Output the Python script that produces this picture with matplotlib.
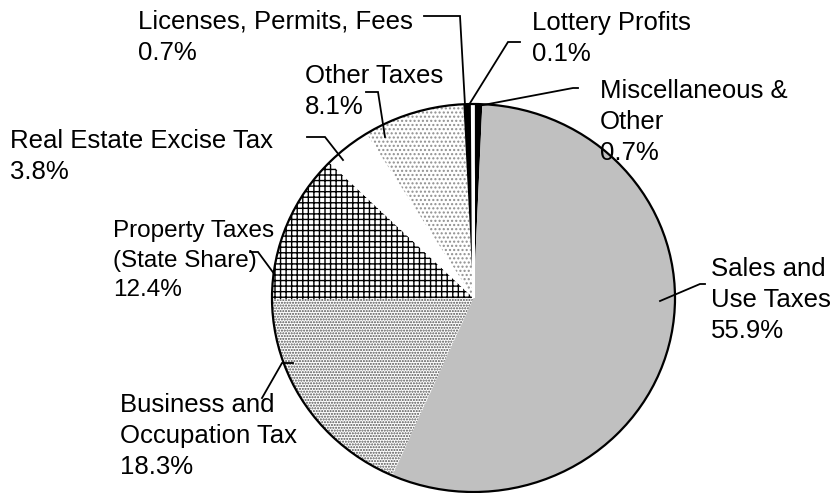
import matplotlib.pyplot as plt
from matplotlib.patches import Ellipse

plt.rcParams['font.family'] = ['Liberation Sans', 'DejaVu Sans']

# podaci (procenti sa slike), redom u smeru kazaljke od vrha
labels = ['Miscellaneous &\nOther', 'Sales and\nUse Taxes', 'Business and\nOccupation Tax',
          'Property Taxes\n(State Share)', 'Real Estate Excise Tax', 'Other Taxes',
          'Licenses, Permits, Fees', 'Lottery Profits']
values = [0.7, 55.9, 18.3, 12.4, 3.8, 8.1, 0.7, 0.1]

# izgled isecaka: boja, srafura, boja srafure
faces = ['black', '#c0c0c0', 'white', 'white', 'white', 'white', 'black', 'white']
hatches = [None, None, '......', '+++', None, '....', None, None]
hcolors = ['black', 'black', '#505050', 'black', 'black', '#909090', 'black', 'white']
sizes = [18.5, 18.5, 18.5, 17.5, 18.5, 18.5, 18.5, 18.5]

# pozicije natpisa i linija (pikseli, y nadole)
text_pos = [(600, 79), (711, 257), (120, 393), (113, 220), (10, 129), (305, 64), (138, 10), (532, 11)]
leaders = [[(578, 88), (573, 88), (478, 106)],
           [(705, 284), (700, 284), (660, 301)],
           [(262, 398), (282, 363), (293, 363)],
           [(250, 252), (258, 252), (275, 275)],
           [(307, 137), (325, 137), (343, 160)],
           [(366, 92), (378, 92), (385, 137)],
           [(424, 16), (460, 16), (465, 105)],
           [(520, 42), (508, 42), (467, 108)]]

W, H = 840, 493
CX, CY = 473.5, 298
RX, RY = 201.5, 194


def p(x, y):
    return (x - CX) / RX, (CY - y) / RY


fig = plt.figure(figsize=(8.4, 4.93), dpi=100)
ax = fig.add_axes([0, 0, 1, 1])
plt.rcParams['hatch.linewidth'] = 1.0
wedges, _ = ax.pie(values, startangle=90, counterclock=False, radius=1,
                   wedgeprops=dict(linewidth=0))
for w, fc, h, hc in zip(wedges, faces, hatches, hcolors):
    w.set_facecolor(fc)
    w.set_edgecolor(hc)
    if h:
        w.set_hatch(h)
# mali beli procep izmedju dva crna isecka
wedges[-1].set_linewidth(2.0)

ax.add_patch(Ellipse((0, 0), 2, 2, fill=False, edgecolor='black', linewidth=1.6))

ax.set_aspect('auto')
ax.set_xlim(-CX / RX, (W - CX) / RX)
ax.set_ylim(-(H - CY) / RY, CY / RY)
ax.axis('off')

for lab, v, (tx, ty), ld, fs in zip(labels, values, text_pos, leaders, sizes):
    x, y = p(tx, ty)
    ax.text(x, y, lab + '\n' + f'{v:.1f}%', ha='left', va='top', fontsize=fs,
            linespacing=1.37 * 18.5 / fs, color='black')
    xs, ys = zip(*[p(a, b) for a, b in ld])
    ax.plot(xs, ys, color='black', linewidth=1.3, solid_joinstyle='miter')

fig.savefig('out.png', dpi=100)
